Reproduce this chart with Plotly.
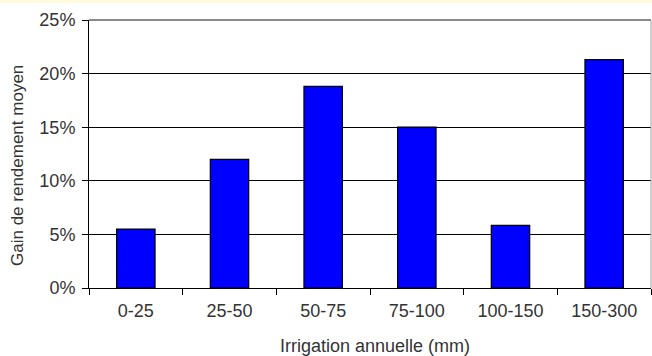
import plotly.graph_objects as go

categories = ["0-25", "25-50", "50-75", "75-100", "100-150", "150-300"]
gains = [0.055, 0.12, 0.188, 0.15, 0.0585, 0.213]
y_ticks = [0, 0.05, 0.10, 0.15, 0.20, 0.25]
y_tick_labels = ["0%", "5%", "10%", "15%", "20%", "25%"]
x_title = "Irrigation annuelle (mm)"
y_title = "Gain de rendement moyen"

FONT = "Liberation Sans, Arial, sans-serif"
TXT = "#333333"
PLOT_H = 268

fig = go.Figure()
fig.add_trace(go.Bar(
    x=categories, y=gains, width=0.41,
    marker=dict(color="#0000ff", line=dict(color="#000000", width=1.2)),
))

fig.update_layout(
    width=652, height=356,
    margin=dict(l=89, r=1, t=20, b=68),
    paper_bgcolor="white", plot_bgcolor="white",
    showlegend=False,
    font=dict(family=FONT, size=18, color=TXT),
    shapes=[
        dict(type="rect", xref="paper", yref="paper", x0=-0.2, x1=1.01,
             y0=1.0 + 17 / PLOT_H, y1=1.2,
             fillcolor="#fffbdc", line=dict(width=0), layer="below"),
        dict(type="line", xref="paper", yref="paper", x0=0, x1=1, y0=1, y1=1,
             line=dict(color="#8a8a8a", width=2)),
        dict(type="line", xref="paper", yref="paper", x0=1, x1=1, y0=0, y1=1,
             line=dict(color="#a0a0a0", width=1)),
    ],
    annotations=[
        dict(text=x_title, xref="paper", yref="paper", x=0.5, y=0,
             xanchor="center", yanchor="middle", xshift=5, yshift=-58,
             showarrow=False, font=dict(family=FONT, size=18, color=TXT)),
        dict(text=y_title, xref="paper", yref="paper", x=0, y=0.5,
             xanchor="center", yanchor="middle", xshift=-72, yshift=-12,
             textangle=-90,
             showarrow=False, font=dict(family=FONT, size=17, color=TXT)),
    ],
)
fig.update_xaxes(
    type="category", automargin=False,
    showline=True, linecolor="black", linewidth=1,
    ticks="outside", ticklen=6, tickcolor="black", tickwidth=1,
    tickson="boundaries", ticklabelstandoff=6,
    showgrid=False,
    tickfont=dict(family=FONT, size=18, color=TXT),
)
fig.update_yaxes(
    range=[0, 0.25], automargin=False,
    tickvals=y_ticks, ticktext=y_tick_labels,
    showline=True, linecolor="black", linewidth=1,
    ticks="outside", ticklen=6, tickcolor="black", tickwidth=1,
    ticklabelstandoff=3,
    showgrid=True, gridcolor="black", gridwidth=1,
    zeroline=False,
    tickfont=dict(family=FONT, size=18, color=TXT),
)

fig.write_html(
    "out.html",
    config={"displayModeBar": False},
    post_script="document.body.style.margin='0';document.body.style.overflow='hidden';",
)
